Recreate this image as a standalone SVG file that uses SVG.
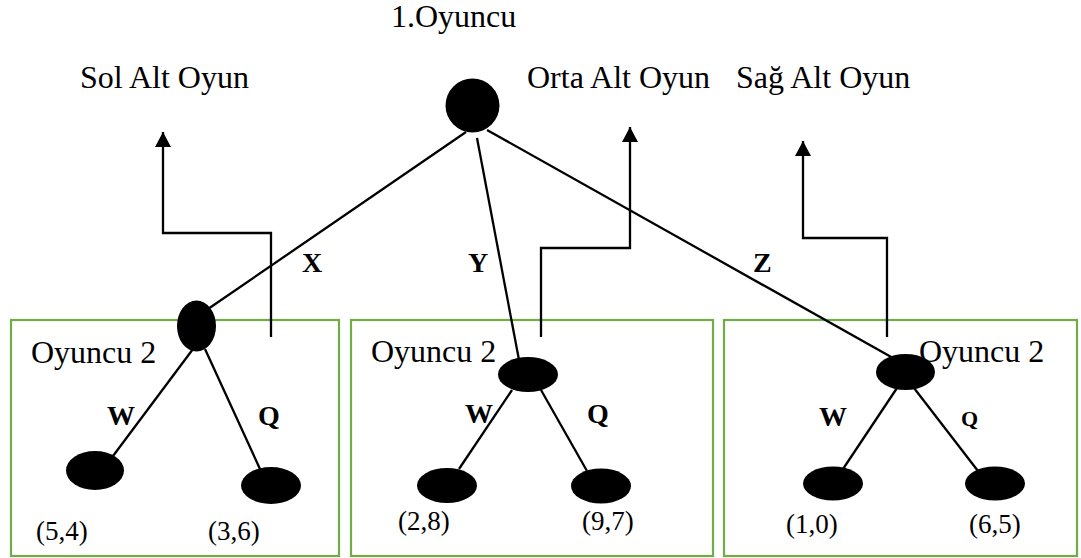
<svg xmlns="http://www.w3.org/2000/svg" width="1081" height="558" viewBox="0 0 1081 558">
<defs>
<marker id="arr" markerUnits="userSpaceOnUse" markerWidth="16" markerHeight="16" refX="15" refY="8" orient="auto">
<path d="M0,0 L15,8 L0,16 Z" fill="#000"/>
</marker>
<style>
.t{font-family:"Liberation Serif","Times New Roman",serif;font-size:32px;fill:#000}
.c{font-family:"Liberation Serif","Times New Roman",serif;font-size:27px;fill:#000}
.b{font-family:"Liberation Serif","Times New Roman",serif;font-size:28px;font-weight:bold;fill:#000}
.box{fill:none;stroke:#70AD47;stroke-width:2.2}
.e{stroke:#000;stroke-width:2.3;fill:none}
.n{fill:#000}
</style>
</defs>
<rect width="1081" height="558" fill="#fff"/>
<g id="boxes">
<rect class="box" x="11" y="320" width="328" height="236"/>
<rect class="box" x="351" y="320" width="362" height="236"/>
<rect class="box" x="724" y="320" width="353" height="236"/>
</g>
<g id="connectors">
<line class="e" x1="466" y1="132" x2="208" y2="309"/>
<line class="e" x1="477" y1="138" x2="519" y2="360"/>
<line class="e" x1="487" y1="130" x2="893" y2="358"/>
<line class="e" x1="193" y1="349" x2="113" y2="456"/>
<line class="e" x1="205" y1="349" x2="260" y2="469"/>
<line class="e" x1="512" y1="390" x2="459" y2="469"/>
<line class="e" x1="541" y1="390" x2="587" y2="471"/>
<line class="e" x1="897" y1="388" x2="843" y2="469"/>
<line class="e" x1="914" y1="388" x2="978" y2="471"/>
<path class="e" d="M271,337 V233 H163 V132" marker-end="url(#arr)"/>
<path class="e" d="M541,337 V248 H630 V127" marker-end="url(#arr)"/>
<path class="e" d="M887,337 V238 H803 V141" marker-end="url(#arr)"/>
</g>
<g id="node-p1"><circle class="n" cx="472.5" cy="105.5" r="27"/></g>
<g id="node-l"><ellipse class="n" cx="196.5" cy="326" rx="19.5" ry="25.5"/></g>
<g id="node-m"><ellipse class="n" cx="528" cy="374.5" rx="30" ry="17.5"/></g>
<g id="node-r"><ellipse class="n" cx="905.5" cy="372" rx="29.5" ry="18"/></g>
<g id="leaf-l1"><ellipse class="n" cx="95" cy="470.5" rx="29" ry="19.5"/></g>
<g id="leaf-l2"><ellipse class="n" cx="271" cy="485.5" rx="30" ry="18.5"/></g>
<g id="leaf-m1"><ellipse class="n" cx="447" cy="485.5" rx="30" ry="17.5"/></g>
<g id="leaf-m2"><ellipse class="n" cx="601" cy="486" rx="30" ry="17.5"/></g>
<g id="leaf-r1"><ellipse class="n" cx="833" cy="483.5" rx="30" ry="17"/></g>
<g id="leaf-r2"><ellipse class="n" cx="995" cy="483.5" rx="30" ry="17"/></g>
<g id="labels">
<text class="t" x="391" y="27">1.Oyuncu</text>
<text class="t" x="80" y="88">Sol Alt Oyun</text>
<text class="t" x="527" y="88">Orta Alt Oyun</text>
<text class="t" x="736" y="88">Sağ Alt Oyun</text>
<text class="b" x="302" y="272">X</text>
<text class="b" x="468" y="272">Y</text>
<text class="b" x="753" y="272">Z</text>
<text class="t" x="31" y="363">Oyuncu 2</text>
<text class="t" x="371" y="362">Oyuncu 2</text>
<text class="t" x="919" y="362">Oyuncu 2</text>
<text class="b" x="107" y="425">W</text>
<text class="b" x="258" y="425">Q</text>
<text class="b" x="465" y="423">W</text>
<text class="b" x="587" y="423">Q</text>
<text class="b" x="819" y="426">W</text>
<text class="b" x="961" y="426" style="font-size:22px">Q</text>
<text class="c" x="36" y="540">(5,4)</text>
<text class="c" x="208" y="540">(3,6)</text>
<text class="c" x="398" y="530">(2,8)</text>
<text class="c" x="582" y="530">(9,7)</text>
<text class="c" x="786" y="533">(1,0)</text>
<text class="c" x="969" y="533">(6,5)</text>
</g>
</svg>
